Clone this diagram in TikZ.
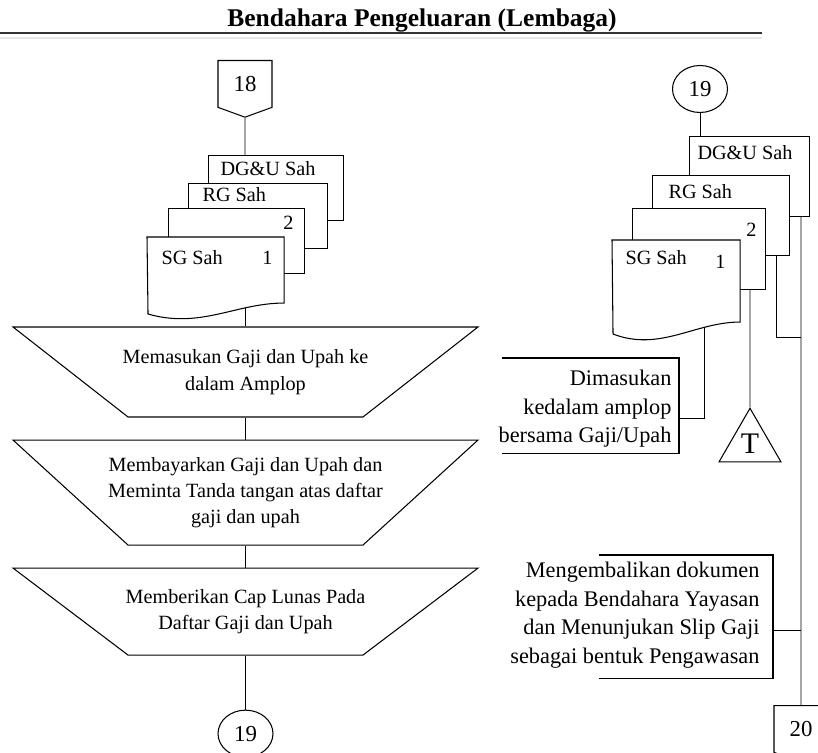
\documentclass[tikz,border=0pt]{standalone}
\usepackage{fontspec}
\setmainfont{Liberation Serif}
\usetikzlibrary{shapes.geometric, shapes.symbols, positioning, backgrounds}
\tikzset{
  doc/.style={rectangle, draw, fill=white, anchor=north west, inner sep=0pt, minimum height=1.3cm},
  doctext/.style={inner sep=0pt, font=\fontsize{11.5}{14}\selectfont},
  manual/.style={trapezium, trapezium left angle=#1, trapezium right angle=#1, trapezium stretches body, draw, fill=white, minimum width=9.3cm, inner xsep=0pt},
  steptext/.style={align=center, inner sep=0pt, font=\fontsize{11.5}{15}\selectfont},
  offpage/.style={signal, signal to=south, signal pointer angle=140, draw, fill=white, minimum width=1.08cm, minimum height=1.02cm, inner sep=0pt, font=\fontsize{13}{15}\selectfont},
  onpage/.style={ellipse, draw, fill=white, minimum width=1.1cm, minimum height=0.94cm, inner sep=0pt, font=\fontsize{13}{15}\selectfont},
  note/.style={align=right, inner sep=0pt, font=\fontsize{12.7}{16.2}\selectfont},
  bracket/.style={inner sep=0pt, anchor=north east}
}
\begin{document}
\begin{tikzpicture}[x=0.02cm, y=-0.02cm, line width=0.6pt, node distance=0.44cm]
  \useasboundingbox (0,0) rectangle (818,753);
  \node (title) [anchor=base, font=\fontsize{14.5}{17}\selectfont\bfseries] at (422,27) {Bendahara Pengeluaran (Lembaga)};
  \coordinate (ruleL) at (0,33);
  \coordinate (ruleR) at (762,33);
  \draw[line width=1.4pt, black!80] (ruleL) -- (ruleR);
  \draw[line width=1pt, black!10] ([yshift=-0.1cm]ruleL) -- ([yshift=-0.1cm]ruleR);

  % left column
  \node (c18) [offpage, anchor=north] at (245,60) {18};
  \node (dgL) [doc, minimum width=2.7cm, label={[doctext, anchor=west, shift={(12,14)}]north west:DG\&U Sah}] at (208,155) {};
  \node (rgL) [doc, minimum width=2.78cm, label={[doctext, anchor=west, shift={(14,12)}]north west:RG Sah}] at (188,183) {};
  \node (d2L) [doc, minimum width=2.72cm, label={[doctext, anchor=east, shift={(-11,15)}]north east:2}] at (168,208) {};
  \node (sgL) [doc, draw=none, fill=none, minimum width=2.72cm] at (147,237) {};
  \draw[fill=white] (sgL.north west) -- (sgL.north east) -- (sgL.south east) .. controls +(-48,0) and +(53,15) .. ++(-136,11) -- cycle;
  \node (sgLa) [doctext, anchor=west] at ([shift={(14,21)}]sgL.north west) {SG Sah};
  \node (sgLb) [doctext, anchor=east] at ([shift={(-11,21)}]sgL.north east) {1};

  \node (tr1) [manual=141.95, inner ysep=0.9cm, label={[steptext]center:Memasukan Gaji dan Upah ke\\dalam Amplop}] at (245.5,372) {};
  \node (tr2) [manual=137.6, inner ysep=1.05cm, below=of tr1, label={[steptext]center:Membayarkan Gaji dan Upah dan\\Meminta Tanda tangan atas daftar\\gaji dan upah}] {};
  \node (tr3) [manual=142.9, inner ysep=0.87cm, below=of tr2, label={[steptext]center:Memberikan Cap Lunas Pada\\Daftar Gaji dan Upah}] {};
  \node (c19L) [onpage, below=1.08cm of tr3] {19};

  % right column
  \node (c19R) [onpage] at (700,89) {19};
  \node (dgR) [doc, minimum width=2.4cm, minimum height=1.6cm, label={[doctext, anchor=west, shift={(8,17)}]north west:DG\&U Sah}] at (689,136) {};
  \node (rgR) [doc, minimum width=2.74cm, minimum height=1.6cm, label={[doctext, anchor=west, shift={(16,17)}]north west:RG Sah}] at (652,175) {};
  \node (d2R) [doc, minimum width=2.66cm, minimum height=1.62cm, label={[doctext, anchor=east, shift={(-9,22)}]north east:2}] at (632,208) {};
  \node (sgR) [doc, draw=none, fill=none, minimum width=2.54cm, minimum height=1.62cm] at (612,240) {};
  \draw[fill=white] (sgR.north west) -- (sgR.north east) -- (sgR.south east) .. controls +(-45,0) and +(47,18) .. ++(-127,12) -- cycle;
  \node (sgRa) [doctext, anchor=west] at ([shift={(13,18)}]sgR.north west) {SG Sah};
  \node (sgRb) [doctext, anchor=east] at ([shift={(-14,22)}]sgR.north east) {1};

  \node (tri) [regular polygon, regular polygon sides=3, draw, fill=white, minimum size=1.43cm, inner sep=0pt, font=\fontsize{17}{19}\selectfont] at (750,444) {T};

  \node (ann1) [bracket, minimum width=3.52cm, minimum height=1.88cm] at (679,358) {};
  \draw (ann1.north west) -- (ann1.north east) -- (ann1.south east) -- (ann1.south west);
  \node (ann1t) [note, anchor=east] at (672,409) {Dimasukan\\kedalam amplop\\bersama Gaji/Upah};

  \node (ann2) [bracket, minimum width=3.46cm, minimum height=2.44cm] at (773,555) {};
  \draw (ann2.north west) -- (ann2.north east) -- (ann2.south east) -- (ann2.south west);
  \node (ann2t) [note, anchor=east] at (760,615) {Mengembalikan dokumen\\kepada Bendahara Yayasan\\dan Menunjukan Slip Gaji\\sebagai bentuk Pengawasan};

  \node (c20) [offpage, anchor=north] at (801,705) {20};
  \coordinate (ja1) at (704,418);
  \coordinate (jr1) at (801,337);
  \coordinate (jr2) at (801,630);

  % flow lines, kept behind the symbols
  \begin{scope}[on background layer]
    \draw (c18) -- (c18 |- dgL.north);
    \draw (tr1) -- (tr1 |- sgL.south);
    \draw (tr1) -- (tr2);
    \draw (tr2) -- (tr3);
    \draw (tr3) -- (c19L);
    \draw (c19R) -- (c19R |- dgR.north);
    \draw (ja1 -| ann1.east) -- (ja1) -- (ja1 |- sgR.south);
    \draw (tri) -- (tri |- d2R.south);
    \draw ([xshift=-0.28cm]rgR.south east) |- (jr1);
    \draw (c20) -- (c20 |- dgR.south);
    \draw (jr2) -- (jr2 -| ann2.east);
  \end{scope}
\end{tikzpicture}
\end{document}
